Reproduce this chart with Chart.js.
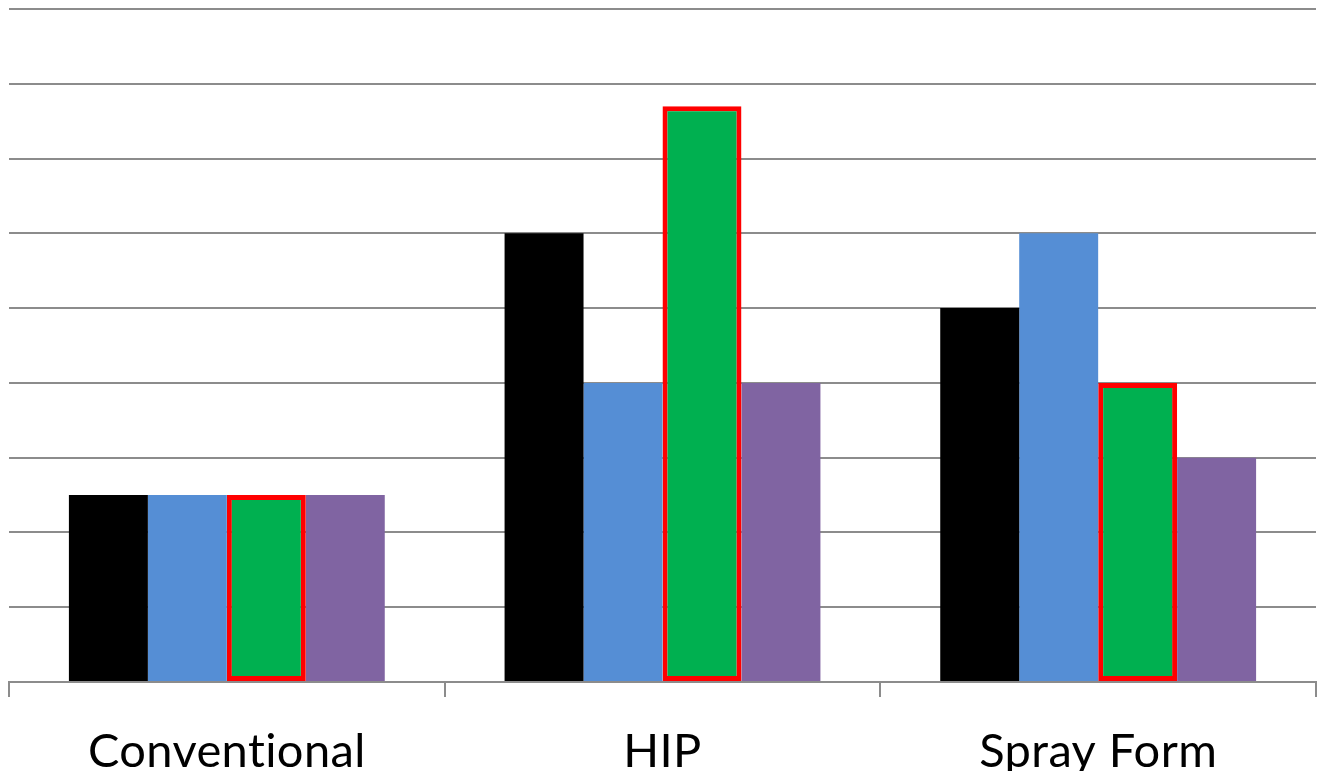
<!DOCTYPE html>
<html>
<head>
<meta charset="utf-8">
<script src="https://cdn.jsdelivr.net/npm/chart.js@4"></script>
<style>
  html, body { margin: 0; padding: 0; background: #fff; overflow: hidden; }
  #wrap { width: 1317px; height: 771px; }
</style>
</head>
<body>
<div id="wrap"><canvas id="chart"></canvas></div>
<script>
// categories and the four bar series
const categories = ['Conventional', 'HIP', 'Spray Form']
const seriesBlack = [2.5, 6, 5]
const seriesBlue = [2.5, 4, 6]
const seriesGreen = [2.5, 7.7, 4]
const seriesPurple = [2.5, 4, 3]

const gridColor = '#8c8c8c'

// a tiny letter spacing keeps Lato from joining "ti" into a ligature
const noLigatures = {
  id: 'noLigatures',
  beforeDraw(chart) {
    chart.ctx.letterSpacing = '0.4px'
  }
}

const ctx = document.getElementById('chart').getContext('2d')

new Chart(ctx, {
  type: 'bar',
  data: {
    labels: categories,
    datasets: [
      { label: 'Series 1', data: seriesBlack, backgroundColor: '#000000', borderWidth: 0 },
      { label: 'Series 2', data: seriesBlue, backgroundColor: '#558ed5', borderWidth: 0 },
      {
        label: 'Series 3',
        data: seriesGreen,
        backgroundColor: '#00b050',
        borderColor: '#ff0000',
        borderWidth: 5,
        borderSkipped: false
      },
      { label: 'Series 4', data: seriesPurple, backgroundColor: '#8064a2', borderWidth: 0 }
    ]
  },
  options: {
    responsive: true,
    maintainAspectRatio: false,
    animation: false,
    layout: {
      padding: { top: 9, left: 9, right: 1, bottom: 0 }
    },
    datasets: {
      bar: {
        categoryPercentage: 0.725,
        barPercentage: 1
      }
    },
    plugins: {
      legend: { display: false },
      tooltip: { enabled: false }
    },
    scales: {
      x: {
        afterFit: (scale) => { scale.height = 89 },
        grid: {
          offset: true,
          drawOnChartArea: false,
          drawTicks: true,
          tickLength: 15,
          color: gridColor,
          lineWidth: 2
        },
        border: {
          display: true,
          color: gridColor,
          width: 2
        },
        ticks: {
          color: '#000',
          padding: 27,
          font: { family: 'Lato, "Open Sans", sans-serif', size: 47 }
        }
      },
      y: {
        min: 0,
        max: 9,
        afterFit: (scale) => { scale.width = 0 },
        ticks: { display: false, stepSize: 1 },
        border: { display: false },
        grid: {
          color: gridColor,
          lineWidth: 2,
          drawTicks: false
        }
      }
    }
  },
  plugins: [noLigatures]
})
</script>
</body>
</html>
